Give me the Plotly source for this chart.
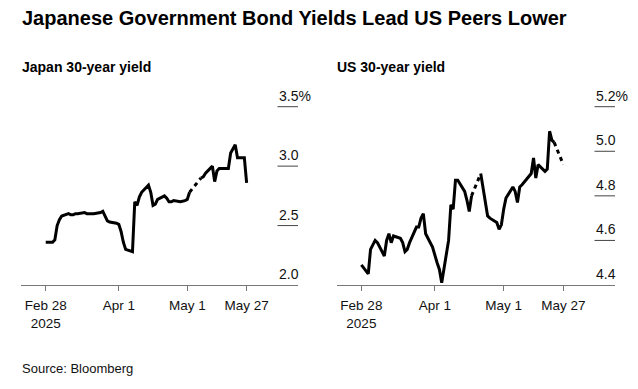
import plotly.graph_objects as go
from datetime import date

# ---------------- data ----------------
jp_dates = ["2025-02-28", "2025-03-03", "2025-03-04", "2025-03-05", "2025-03-06", "2025-03-07",
            "2025-03-10", "2025-03-11", "2025-03-12", "2025-03-13", "2025-03-14",
            "2025-03-17", "2025-03-18", "2025-03-19", "2025-03-21",
            "2025-03-24", "2025-03-25", "2025-03-26", "2025-03-27", "2025-03-28",
            "2025-03-31", "2025-04-01", "2025-04-02", "2025-04-03", "2025-04-04",
            "2025-04-07", "2025-04-08", "2025-04-09", "2025-04-10", "2025-04-11",
            "2025-04-14", "2025-04-15", "2025-04-16", "2025-04-17", "2025-04-18",
            "2025-04-21", "2025-04-22", "2025-04-23", "2025-04-24", "2025-04-25",
            "2025-04-28", "2025-04-30", "2025-05-01", "2025-05-02",
            "2025-05-07", "2025-05-08", "2025-05-09",
            "2025-05-12", "2025-05-13", "2025-05-14", "2025-05-15", "2025-05-16",
            "2025-05-19", "2025-05-20", "2025-05-21", "2025-05-22", "2025-05-23",
            "2025-05-26", "2025-05-27"]
jp_values = [2.36, 2.36, 2.38, 2.50, 2.55, 2.58,
             2.60, 2.59, 2.59, 2.60, 2.60,
             2.61, 2.60, 2.60, 2.60,
             2.61, 2.62, 2.58, 2.54, 2.53,
             2.52, 2.51, 2.45, 2.36, 2.30,
             2.28, 2.70, 2.67, 2.74, 2.78,
             2.84, 2.78, 2.67, 2.68, 2.72,
             2.75, 2.73, 2.70, 2.70, 2.71,
             2.70, 2.71, 2.72, 2.78,
             2.90, 2.91, 2.94,
             3.00, 2.87, 2.96, 2.98, 2.98,
             2.98, 3.11, 3.15, 3.18, 3.07,
             3.07, 2.86]

us_dates = ["2025-02-28", "2025-03-03", "2025-03-04", "2025-03-05", "2025-03-06", "2025-03-07",
            "2025-03-10", "2025-03-11", "2025-03-12", "2025-03-13", "2025-03-14",
            "2025-03-17", "2025-03-18", "2025-03-19", "2025-03-20", "2025-03-21",
            "2025-03-24", "2025-03-25", "2025-03-26", "2025-03-27", "2025-03-28",
            "2025-03-31", "2025-04-01", "2025-04-02", "2025-04-03", "2025-04-04",
            "2025-04-07", "2025-04-08", "2025-04-09", "2025-04-10", "2025-04-11",
            "2025-04-14", "2025-04-15", "2025-04-16", "2025-04-17",
            "2025-04-21", "2025-04-22", "2025-04-23", "2025-04-24", "2025-04-25",
            "2025-04-28", "2025-04-29", "2025-04-30", "2025-05-01", "2025-05-02",
            "2025-05-05", "2025-05-06", "2025-05-07", "2025-05-08", "2025-05-09",
            "2025-05-12", "2025-05-13", "2025-05-14", "2025-05-15", "2025-05-16",
            "2025-05-19", "2025-05-20", "2025-05-21", "2025-05-22", "2025-05-23",
            "2025-05-27"]
us_values = [4.49, 4.45, 4.56, 4.58, 4.60, 4.59,
             4.53, 4.60, 4.63, 4.59, 4.62,
             4.61, 4.59, 4.55, 4.56, 4.59,
             4.66, 4.66, 4.70, 4.72, 4.63,
             4.57, 4.53, 4.50, 4.47, 4.41,
             4.60, 4.76, 4.74, 4.87, 4.87,
             4.82, 4.78, 4.73, 4.80,
             4.90, 4.84, 4.78, 4.71, 4.70,
             4.68, 4.65, 4.67, 4.74, 4.79,
             4.84, 4.82, 4.77, 4.84, 4.85,
             4.89, 4.90, 4.97, 4.88, 4.94,
             4.91, 4.92, 5.09, 5.05, 5.04,
             4.94]

x_tickvals = ["2025-02-28", "2025-04-01", "2025-05-01", "2025-05-27"]
x_ticktext = ["Feb 28<br>2025", "Apr 1", "May 1", "May 27"]
x_range = ["2025-02-17 04:00", "2025-06-18 12:00"]

jp_ytickvals = [2.0, 2.5, 3.0, 3.5]
jp_yticktext = ["2.0", "2.5", "3.0", "3.5%"]
jp_yrange = [2.0, 3.5]

us_ytickvals = [4.4, 4.6, 4.8, 5.0, 5.2]
us_yticktext = ["4.4", "4.6", "4.8", "5.0", "5.2%"]
us_yrange = [4.4, 5.2]

title = "Japanese Government Bond Yields Lead US Peers Lower"
subtitles = ["Japan 30-year yield", "US 30-year yield"]
source = "Source: Bloomberg"

# ---------------- layout helpers ----------------
# The page body has an 8px default margin, so the figure is sized to fill the
# remaining 630x381 area; positions below are given in window pixels.
WIN_W, WIN_H, OFF = 638, 389, 8
W, H = WIN_W - OFF, WIN_H - OFF
FONT = "Liberation Sans, Arial, sans-serif"


def px(sx):
    return (sx - OFF) / W


def py(sy):
    return (WIN_H - sy) / H


def split_segments(dates, values, gap_days=3):
    """Solid line with breaks at market-holiday gaps; dashed line bridging those gaps."""
    ds = [date.fromisoformat(d) for d in dates]
    sx, sy, dx, dy = [], [], [], []
    for i, (d, v) in enumerate(zip(dates, values)):
        if i > 0 and (ds[i] - ds[i - 1]).days > gap_days:
            sx.append(None); sy.append(None)
            dx += [dates[i - 1], d, None]
            dy += [values[i - 1], v, None]
        sx.append(d); sy.append(v)
    return sx, sy, dx, dy


fig = go.Figure()

panels = [
    dict(xa="x", ya="y", xpx=[21, 298], dates=jp_dates, vals=jp_values,
         yt=jp_ytickvals, ytt=jp_yticktext, yr=jp_yrange, sub=subtitles[0]),
    dict(xa="x2", ya="y2", xpx=[336.5, 615], dates=us_dates, vals=us_values,
         yt=us_ytickvals, ytt=us_yticktext, yr=us_yrange, sub=subtitles[1]),
]
ydom = [py(285.0), py(106.7)]
GRID_LEN = 20

annotations = []
for k, p in enumerate(panels):
    sx, sy, dx, dy = split_segments(p["dates"], p["vals"])
    fig.add_trace(go.Scatter(x=sx, y=sy, mode="lines", xaxis=p["xa"], yaxis=p["ya"],
                             line=dict(color="black", width=3), connectgaps=False,
                             hoverinfo="skip", showlegend=False))
    fig.add_trace(go.Scatter(x=dx, y=dy, mode="lines", xaxis=p["xa"], yaxis=p["ya"],
                             line=dict(color="black", width=3, dash="4px,4px"),
                             connectgaps=False, hoverinfo="skip", showlegend=False))
    sfx = "" if k == 0 else "2"
    xdom = [px(p["xpx"][0]), px(p["xpx"][1])]
    fig.update_layout(**{
        "xaxis" + sfx: dict(domain=xdom, anchor="y" + sfx, type="date", range=x_range,
                            tickvals=x_tickvals, ticktext=x_ticktext, ticks="outside",
                            ticklen=5, tickwidth=1, tickcolor="#777", showline=True,
                            linecolor="#777", linewidth=1, showgrid=False, zeroline=False,
                            ticklabelstandoff=3,
                            tickfont=dict(family=FONT, size=13.5, color="#111"),
                            fixedrange=True),
        "yaxis" + sfx: dict(domain=ydom, anchor="x" + sfx, side="right", range=p["yr"],
                            showticklabels=False, ticks="", showgrid=False,
                            zeroline=False, showline=False, fixedrange=True),
    })
    for v, t in zip(p["yt"], p["ytt"]):
        if v != p["yr"][0]:
            # short reference line under each value label, drawn as a headless
            # annotation arrow that ends on the panel's right edge at the tick value
            annotations.append(dict(text=" ", xref="paper", yref=p["ya"], x=xdom[1], y=v,
                                    showarrow=True, arrowhead=0, arrowwidth=1,
                                    arrowcolor="#444", ax=-GRID_LEN - 1, ay=0,
                                    standoff=0, startstandoff=0,
                                    font=dict(size=1, color="rgba(0,0,0,0)"),
                                    borderpad=0))
        annotations.append(dict(text=t, xref="paper", yref=p["ya"], x=xdom[1], y=v,
                                xanchor="left", yanchor="bottom", xshift=-GRID_LEN - 1.5,
                                yshift=1.0, showarrow=False,
                                font=dict(family=FONT, size=14, color="#111")))
    annotations.append(dict(text="<b>" + p["sub"] + "</b>", xref="paper", yref="paper",
                            x=xdom[0], y=py(67), xanchor="left", yanchor="middle",
                            xshift=-1.5, showarrow=False,
                            font=dict(family=FONT, size=14, color="#000")))

annotations.append(dict(text="<b>" + title + "</b>", xref="paper", yref="paper",
                        x=px(21), y=py(18), xanchor="left", yanchor="middle", xshift=-1.5,
                        showarrow=False, font=dict(family=FONT, size=20, color="#000")))
annotations.append(dict(text=source, xref="paper", yref="paper",
                        x=px(21), y=py(368), xanchor="left", yanchor="middle", xshift=-1.5,
                        showarrow=False, font=dict(family=FONT, size=13, color="#111")))

fig.update_layout(width=W, height=H, margin=dict(l=0, r=0, t=0, b=0),
                  paper_bgcolor="white", plot_bgcolor="white",
                  annotations=annotations, showlegend=False)

fig.write_html("out.html")
